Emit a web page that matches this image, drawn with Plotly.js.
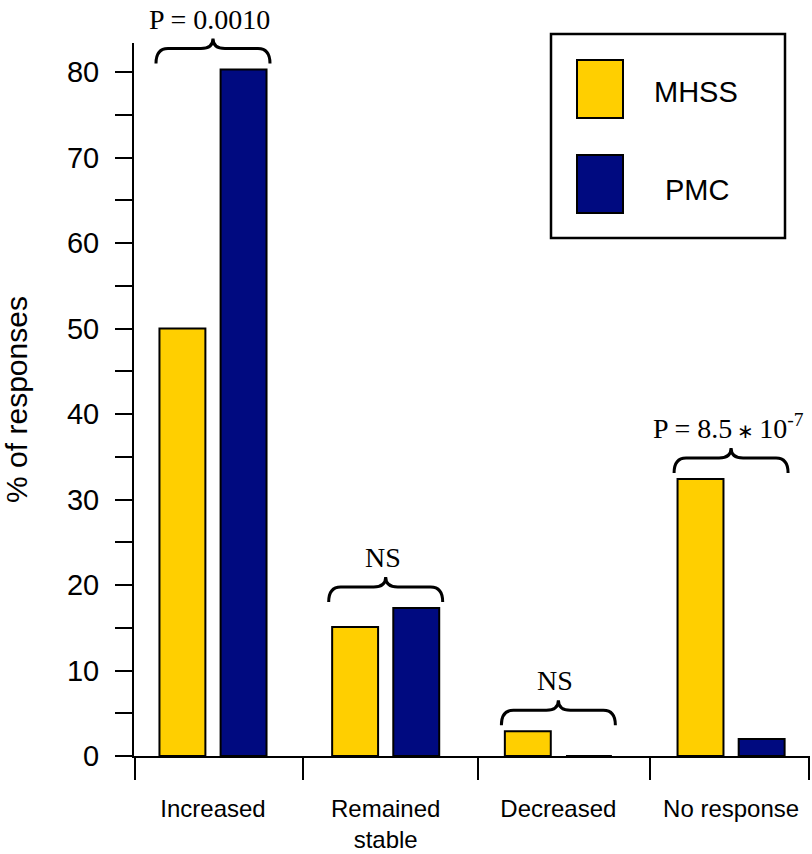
<!DOCTYPE html>
<html><head><meta charset="utf-8">
<script src="https://cdn.plot.ly/plotly-3.0.1.min.js"></script>
<style>html,body{margin:0;padding:0;background:#fff}</style>
</head><body><div id="chart" style="width:812px;height:854px"></div>
<script>
// ---- data ----
const categories = ['Increased', 'Remained<br>stable', 'Decreased', 'No response'];
const seriesNames = ['MHSS', 'PMC'];
const mhss = [50.0, 15.1, 2.9, 32.4];
const pmc = [80.3, 17.3, 0, 2.0];
const significance = ['P = 0.0010', 'NS', 'NS',
  'P = 8.5<span style="font-size:20px"> \u2217 </span>10<sup>-7</sup>'];
const yTickVals = [0, 10, 20, 30, 40, 50, 60, 70, 80];
const separatorTicks = [-0.452, 0.521, 1.534, 2.53, 3.45];

// ---- layout geometry ----
const W = 812, H = 854, M = {l: 134, r: 2, t: 43, b: 98};
const XR = [-0.4574, 3.457], YR = [0, 83.4];
const pw = W - M.l - M.r, ph = H - M.t - M.b;
const xPx = x => M.l + (x - XR[0]) / (XR[1] - XR[0]) * pw;
const yPx = y => H - M.b - (y - YR[0]) / (YR[1] - YR[0]) * ph;
const px2X = px => (px - M.l) / pw;
const py2Y = py => (H - M.b - py) / ph;

const colors = ['#FFCF00', '#000A80'];
const sans = 'Liberation Sans, Arial, sans-serif';
const serif = 'Liberation Serif, Times New Roman, serif';
const xIdx = categories.map((c, i) => i);

const traces = [mhss, pmc].map((vals, k) => ({
  type: 'bar', x: xIdx, y: vals, name: seriesNames[k],
  width: 0.266, offset: k === 0 ? -0.31 : 0.044,
  marker: {color: colors[k], line: {color: 'black', width: 2}},
  showlegend: false, hoverinfo: 'skip'
}));

// braces + significance labels derived from data
const shapes = [];
const annotations = [];
const halfW = 57, pad = 6, leg = 15, tip = 10, r = 12;
xIdx.forEach(i => {
  const xc = xPx(i);
  const top = yPx(Math.max(mhss[i], pmc[i]));
  const yb = top - pad, yh = yb - leg, yp = yh - tip;
  const L = xc - halfW, R = xc + halfW;
  const P = (x, y) => px2X(x).toFixed(5) + ',' + py2Y(y).toFixed(5);
  const path = 'M' + P(L, yb) + ' Q' + P(L, yh) + ' ' + P(L + r, yh) +
    ' L' + P(xc - r, yh) + ' Q' + P(xc, yh) + ' ' + P(xc, yp) +
    ' Q' + P(xc, yh) + ' ' + P(xc + r, yh) +
    ' L' + P(R - r, yh) + ' Q' + P(R, yh) + ' ' + P(R, yb);
  shapes.push({type: 'path', xref: 'paper', yref: 'paper', path: path,
    line: {color: 'black', width: 3}});
  annotations.push({xref: 'paper', yref: 'paper', x: px2X(xc - 3), y: py2Y(yp - 2),
    xanchor: 'center', yanchor: 'bottom', showarrow: false, text: significance[i],
    font: {family: serif, size: 28, color: 'black'}});
});

// custom legend
shapes.push({type: 'rect', xref: 'paper', yref: 'paper',
  x0: px2X(551), x1: px2X(785), y0: py2Y(238), y1: py2Y(34),
  line: {color: 'black', width: 2.5}, fillcolor: 'white', layer: 'below'});
const swatchTop = [60, 155];
const labelCenter = [[696, 92], [697, 190]];
seriesNames.forEach((nm, k) => {
  shapes.push({type: 'rect', xref: 'paper', yref: 'paper',
    x0: px2X(577), x1: px2X(623), y0: py2Y(swatchTop[k] + 58), y1: py2Y(swatchTop[k]),
    line: {color: 'black', width: 2}, fillcolor: colors[k]});
  annotations.push({xref: 'paper', yref: 'paper', x: px2X(labelCenter[k][0]), y: py2Y(labelCenter[k][1]),
    xanchor: 'center', yanchor: 'middle', showarrow: false, text: nm,
    font: {family: sans, size: 29, color: 'black'}});
});

const layout = {
  width: W, height: H, margin: M, paper_bgcolor: 'white', plot_bgcolor: 'white',
  showlegend: false,
  xaxis: {range: XR, showline: true, linecolor: 'black', linewidth: 2,
    tickmode: 'array', tickvals: xIdx, ticktext: categories,
    ticks: 'outside', ticklen: 30, tickcolor: 'rgba(0,0,0,0)',
    tickfont: {family: sans, size: 24, color: 'black'},
    showgrid: false, zeroline: false, fixedrange: true,
    minor: {tickmode: 'array', tickvals: separatorTicks, ticks: 'outside', ticklen: 22,
      tickwidth: 2, tickcolor: 'black', showgrid: false}},
  yaxis: {range: YR, showline: true, linecolor: 'black', linewidth: 2,
    tickmode: 'array', tickvals: yTickVals, ticks: 'outside', ticklen: 17, tickwidth: 2,
    tickcolor: 'black', ticklabelstandoff: 10,
    tickfont: {family: sans, size: 29, color: 'black'},
    minor: {tickmode: 'array', tickvals: yTickVals.map(v => v + 5).filter(v => v < YR[1]),
      ticks: 'outside', ticklen: 17, tickwidth: 2, tickcolor: 'black', showgrid: false},
    showgrid: false, zeroline: false, fixedrange: true,
    title: {text: '% of responses', font: {family: sans, size: 30, color: 'black'}, standoff: 38}},
  shapes: shapes, annotations: annotations
};

Plotly.newPlot('chart', traces, layout, {staticPlot: true});
</script></body></html>
